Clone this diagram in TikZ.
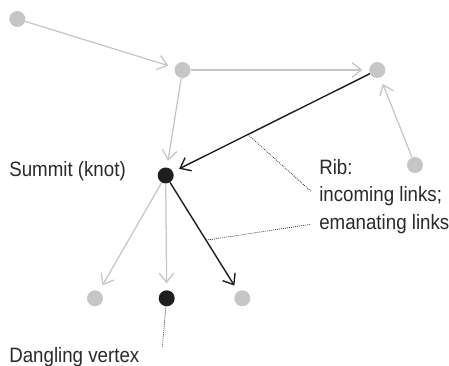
\documentclass[tikz,border=0pt]{standalone}
\usepackage{fontspec}
\setmainfont{Liberation Sans}[FakeStretch=0.9]
\usetikzlibrary{arrows.meta}
\definecolor{lgrey}{HTML}{C6C6C6}
\definecolor{dark}{HTML}{1E1E1E}
\definecolor{txt}{HTML}{2A2A2A}
\begin{document}
\begin{tikzpicture}[x=0.75pt,y=-0.75pt,
  vtx/.style={circle,fill=lgrey,draw=none,minimum size=12pt,inner sep=0pt},
  bvtx/.style={vtx,fill=dark},
  glink/.style={draw=lgrey,line width=0.95pt,-{Straight Barb[length=7pt,width=11pt,line width=0.95pt]},shorten >=5pt},
  blink/.style={draw=dark,line width=1.05pt,-{Straight Barb[length=7pt,width=11pt,line width=1.05pt]},shorten >=5pt},
  leader/.style={draw=dark,line width=0.55pt,dash pattern=on 0.6pt off 0.9pt},
  lbl/.style={anchor=base west,inner sep=0pt,text=txt,font=\fontsize{15.6}{18}\selectfont}]
\useasboundingbox (0,0) rectangle (449,366);
\node[vtx] (n1) at (17.3,19) {};
\node[vtx] (n2) at (182.5,70) {};
\node[vtx] (n3) at (377.3,70) {};
\node[vtx] (n4) at (415,165) {};
\node[bvtx] (k) at (165.7,175.5) {};
\node[vtx] (b1) at (95,298.3) {};
\node[bvtx] (b2) at (166.7,298.3) {};
\node[vtx] (b3) at (242.3,298.3) {};
\draw[glink] (n1) -- (n2);
\draw[glink] (n2) -- (n3);
\draw[glink] (n2) -- (k);
\draw[glink] (n4) -- (n3);
\draw[blink] (n3) -- (k) coordinate[pos=0.62] (p1);
\draw[glink] (k) -- (b1);
\draw[glink] (k) -- (b2);
\draw[blink] (k) -- (b3) coordinate[pos=0.53] (p2);
\node[lbl] (summit) at (9,177) {Summit (knot)};
\node[lbl] (rib) at (319,175) {Rib:};
\node[lbl] (inc) at (319,202) {incoming links;};
\node[lbl] (ema) at (319,230) {emanating links};
\node[lbl] (dang) at (9,362) {Dangling vertex};
\coordinate (q1) at (311.5,191.7);
\coordinate (q2) at (311,224.3);
\coordinate (q3) at (162.3,347.3);
\draw[leader] (p1) -- (q1);
\draw[leader] (p2) -- (q2);
\draw[leader] (b2) -- (q3);
\end{tikzpicture}
\end{document}
